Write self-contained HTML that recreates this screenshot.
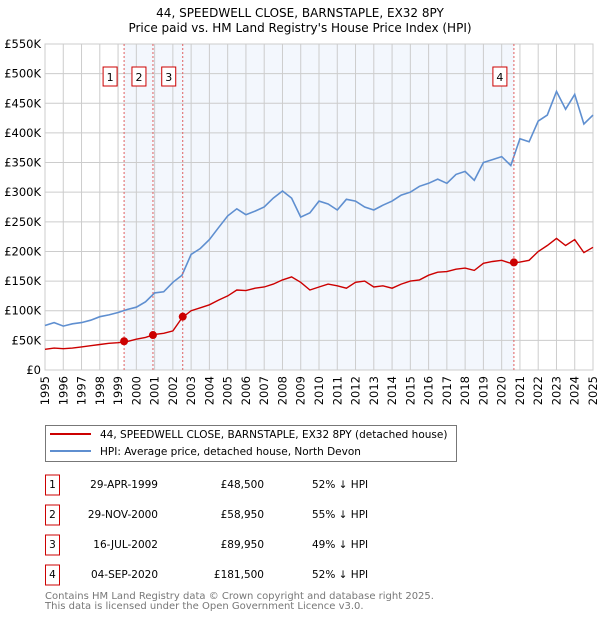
<!DOCTYPE html>
<html><head><meta charset="utf-8"><style>
body{margin:0;background:#fff;}
svg{display:block;font-family:"DejaVu Sans","Liberation Sans",sans-serif;}
</style></head><body>
<svg id="chart" width="600" height="620">
<text x="300" y="17" text-anchor="middle" font-size="12">44, SPEEDWELL CLOSE, BARNSTAPLE, EX32 8PY</text>
<text x="300" y="32" text-anchor="middle" font-size="12">Price paid vs. HM Land Registry's House Price Index (HPI)</text>
<g id="plot"></g>
<g>
<rect x="45.5" y="425.5" width="411" height="36" fill="#fff" stroke="#777"/>
<line x1="50" y1="434" x2="91" y2="434" stroke="#cc0000" stroke-width="2"/>
<text x="100" y="438" font-size="10.5">44, SPEEDWELL CLOSE, BARNSTAPLE, EX32 8PY (detached house)</text>
<line x1="50" y1="451" x2="91" y2="451" stroke="#5f8fd0" stroke-width="2"/>
<text x="100" y="455" font-size="10.5">HPI: Average price, detached house, North Devon</text>
</g>
<g id="table" font-size="10.5"></g>
<text x="45" y="599" font-size="10" fill="#777">Contains HM Land Registry data © Crown copyright and database right 2025.</text>
<text x="45" y="609" font-size="10" fill="#777">This data is licensed under the Open Government Licence v3.0.</text>
</svg>
<script>
const years=[1995,1995.5,1996,1996.5,1997,1997.5,1998,1998.5,1999,1999.5,2000,2000.5,2001,2001.5,2002,2002.5,2003,2003.5,2004,2004.5,2005,2005.5,2006,2006.5,2007,2007.5,2008,2008.5,2009,2009.5,2010,2010.5,2011,2011.5,2012,2012.5,2013,2013.5,2014,2014.5,2015,2015.5,2016,2016.5,2017,2017.5,2018,2018.5,2019,2019.5,2020,2020.5,2021,2021.5,2022,2022.5,2023,2023.5,2024,2024.5,2025];
const hpi=[75,80,74,78,80,84,90,93,97,102,106,115,130,132,148,160,195,205,220,240,260,272,262,268,275,290,302,290,258,265,285,280,270,288,285,275,270,278,285,295,300,310,315,322,315,330,335,320,350,355,360,345,390,385,420,430,470,440,465,415,430];
const prop=[35,37,36,37,39,41,43,45,46,48,52,55,60,62,66,88,100,105,110,118,125,135,134,138,140,145,152,157,148,135,140,145,142,138,148,150,140,142,138,145,150,152,160,165,166,170,172,168,180,183,185,180,182,185,200,210,222,210,220,198,207];
const saleYears=[1999.33,2000.91,2002.54,2020.67];
const salePrices=[48500,58950,89950,181500];
const saleDates=["29-APR-1999","29-NOV-2000","16-JUL-2002","04-SEP-2020"];
const saleLabels=["£48,500","£58,950","£89,950","£181,500"];
const salePcts=["52% ↓ HPI","55% ↓ HPI","49% ↓ HPI","52% ↓ HPI"];
const yTicks=[0,50,100,150,200,250,300,350,400,450,500,550];
const yTickLabels=["£0","£50K","£100K","£150K","£200K","£250K","£300K","£350K","£400K","£450K","£500K","£550K"];
const NS="http://www.w3.org/2000/svg";
const X0=45,X1=593,Y0=370,Y1=44;
const xs=y=>X0+(y-1995)/30*(X1-X0);
const ys=v=>Y0-v/550*(Y0-Y1);
const plot=document.getElementById('plot');
function mk(tag,attrs,parent){const e=document.createElementNS(NS,tag);for(const k in attrs)e.setAttribute(k,attrs[k]);(parent||plot).appendChild(e);return e;}
let r=mk('rect',{x:xs(saleYears[0]),y:Y1,width:xs(saleYears[3])-xs(saleYears[0]),height:Y0-Y1,fill:'#eef3fc',opacity:0.7});


for(let yr=1995;yr<=2025;yr++){
 let l=mk('line',{x1:xs(yr),x2:xs(yr),y1:Y1,y2:Y0,stroke:'#ccc','stroke-width':1});
 
 
 let t=mk('text',{x:0,y:0,'font-size':11.5,'text-anchor':'end',transform:`translate(${xs(yr)+4},${Y0+6}) rotate(-90)`});
 t.textContent=yr;
 
 
}
yTicks.forEach((v,i)=>{
 let l=mk('line',{x1:X0,x2:X1,y1:ys(v),y2:ys(v),stroke:'#ccc','stroke-width':1});
 
 
 let t=mk('text',{x:X0-4,y:ys(v)+4,'font-size':11.5,'text-anchor':'end'});
 t.textContent=yTickLabels[i];
 
 
});
let ax=mk('rect',{x:X0,y:Y1,width:X1-X0,height:Y0-Y1,fill:'none',stroke:'#ccc'});


const pts=a=>a.map((v,i)=>xs(years[i]).toFixed(1)+','+ys(v).toFixed(1)).join(' ');
let h=mk('polyline',{points:pts(hpi),fill:'none',stroke:'#5f8fd0','stroke-width':1.6});


let p=mk('polyline',{points:pts(prop),fill:'none',stroke:'#cc0000','stroke-width':1.4});


saleYears.forEach((sy,i)=>{
 let l=mk('line',{x1:xs(sy),x2:xs(sy),y1:Y1,y2:Y0,stroke:'#e06060','stroke-dasharray':'2,2'});
 
 
 let c=mk('circle',{cx:xs(sy),cy:ys(salePrices[i]/1000),r:4,fill:'#cc0000'});
 
 
 let b=mk('rect',{x:xs(sy)-21,y:67,width:14,height:19,fill:'#fff',stroke:'#cc0000'});
 
 
 let t=mk('text',{x:xs(sy)-14,y:81,'font-size':11,'text-anchor':'middle'});
 t.textContent=i+1;
 
 
});
const tb=document.getElementById('table');
saleDates.forEach((d,i)=>{
 const cy=483+i*30;
 let b=mk('rect',{x:45.5,y:cy-8,width:14,height:20,fill:'#fff',stroke:'#cc0000'},tb);
 
 
 let n=mk('text',{x:52.5,y:cy+5,'text-anchor':'middle'},tb);n.textContent=i+1;
 
 
 let t1=mk('text',{x:158,y:cy+5,'text-anchor':'end'},tb);t1.textContent=d;
 
 
 let t2=mk('text',{x:264,y:cy+5,'text-anchor':'end'},tb);t2.textContent=saleLabels[i];
 
 
 let t3=mk('text',{x:312,y:cy+5},tb);t3.textContent=salePcts[i];
 
 
});
</script>
</body></html>
